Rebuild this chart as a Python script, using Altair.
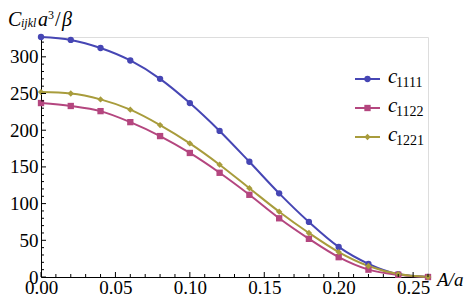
import altair as alt
import pandas as pd

A_over_a = [0.00, 0.02, 0.04, 0.06, 0.08, 0.10, 0.12, 0.14, 0.16, 0.18, 0.20, 0.22, 0.24, 0.26]
c1111 = [327, 323, 312, 295, 270, 237, 199, 157, 114, 75, 41, 18, 4, 0]
c1122 = [237, 233, 226, 211, 192, 169, 142, 112, 80, 52, 27, 10, 3, 0]
c1221 = [252, 250, 242, 228, 207, 182, 153, 121, 89, 60, 34, 15, 4, 0]

series_names = ["c1111", "c1122", "c1221"]
series_subs = ["1111", "1122", "1221"]
colors = ["#4646b4", "#b4467f", "#a89c3c"]
shapes = ["circle", "square", "diamond"]

x_major = [0.00, 0.05, 0.10, 0.15, 0.20, 0.25]
x_minor = [0.01, 0.02, 0.03, 0.04, 0.06, 0.07, 0.08, 0.09, 0.11, 0.12, 0.13, 0.14,
           0.16, 0.17, 0.18, 0.19, 0.21, 0.22, 0.23, 0.24, 0.26]
y_major = [0, 50, 100, 150, 200, 250, 300]
y_minor = [v for v in range(10, 330, 10) if v % 50 != 0]

FONT = "Liberation Serif"
W, H = 387, 240

rows = []
for name, vals in zip(series_names, [c1111, c1122, c1221]):
    for x, v in zip(A_over_a, vals):
        rows.append({"x": x, "C": v, "series": name})
df = pd.DataFrame(rows)

xscale = alt.Scale(domain=[0, 0.26], nice=False, zero=False)
yscale = alt.Scale(domain=[0, 327], nice=False)
color = alt.Color("series:N", scale=alt.Scale(domain=series_names, range=colors), legend=None)
shape = alt.Shape("series:N", scale=alt.Scale(domain=series_names, range=shapes), legend=None)

x_axis = alt.Axis(values=x_major, format=".2f", ticks=False, tickSize=0, grid=False,
                  labelFont=FONT, labelFontSize=19, labelColor="black", labelPadding=1,
                  domainColor="black", domainWidth=1, title=None, labelFlush=False)
y_axis = alt.Axis(values=y_major, format="d", ticks=False, tickSize=0, grid=False,
                  labelFont=FONT, labelFontSize=19, labelColor="black", labelPadding=3,
                  domainColor="black", domainWidth=1, title=None)

base = alt.Chart(df)
lines = base.mark_line(interpolate="monotone", strokeWidth=2).encode(
    x=alt.X("x:Q", scale=xscale, axis=x_axis),
    y=alt.Y("C:Q", scale=yscale, axis=y_axis),
    color=color,
)
points = base.mark_point(filled=True, size=40, opacity=1).encode(
    x=alt.X("x:Q", scale=xscale, axis=x_axis),
    y=alt.Y("C:Q", scale=yscale, axis=y_axis),
    color=color,
    shape=shape,
)

def xticks(vals, length):
    return alt.Chart(pd.DataFrame({"x": vals})).mark_rule(color="black", strokeWidth=1).encode(
        x=alt.X("x:Q", scale=xscale, axis=x_axis),
        y=alt.value(H), y2=alt.value(H - length))

def yticks(vals, length):
    return alt.Chart(pd.DataFrame({"C": vals})).mark_rule(color="black", strokeWidth=1).encode(
        y=alt.Y("C:Q", scale=yscale, axis=y_axis),
        x=alt.value(0), x2=alt.value(length))

def label(txt, x, y, size, italic=True):
    m = alt.Chart(pd.DataFrame({"t": [txt]})).mark_text(
        font=FONT, fontSize=size, fontStyle="italic" if italic else "normal",
        align="left", baseline="alphabetic", color="black")
    return m.encode(text="t:N", x=alt.value(x), y=alt.value(y))

title_parts = [
    label("C", -33, -11, 20),
    label("ijkl", -20, -10, 12),
    label("a", -3, -11, 20),
    label("3", 7, -18, 12, italic=False),
    label("/", 14, -11, 20, italic=False),
    label("β", 21, -11, 20),
    label("A/a", 396, 249, 19),
]

leg_df = pd.DataFrame({"idx": [0, 1, 2], "series": series_names, "sub": series_subs, "c": ["c"] * 3})
leg_y = alt.Y("idx:Q", scale=alt.Scale(domain=[0, 2], range=[42, 100], nice=False, zero=False), axis=None)
leg_base = alt.Chart(leg_df)
leg_line = leg_base.mark_rule(strokeWidth=2).encode(
    x=alt.value(314), x2=alt.value(339), y=leg_y, color=color)
leg_pt = leg_base.mark_point(filled=True, size=40, opacity=1).encode(
    x=alt.value(326.5), y=leg_y, color=color, shape=shape)
leg_c = leg_base.mark_text(font=FONT, fontSize=21, fontStyle="italic", align="left",
                           baseline="alphabetic", dy=4, color="black").encode(
    x=alt.value(347), y=leg_y, text="c:N")
leg_sub = leg_base.mark_text(font=FONT, fontSize=14, align="left",
                             baseline="alphabetic", dy=8, color="black").encode(
    x=alt.value(355), y=leg_y, text="sub:N")

main = alt.layer(lines, points, xticks(x_major, 5), xticks(x_minor, 3),
                 yticks(y_major, 5), yticks(y_minor, 3), *title_parts)
legend = alt.layer(leg_line, leg_pt, leg_c, leg_sub)

chart = alt.layer(main, legend).resolve_scale(y="independent").properties(
    width=W, height=H,
    padding={"left": 33, "top": 29, "right": 37, "bottom": 22},
    autosize=alt.AutoSizeParams(type="none"),
).configure_view(stroke=None).configure(background="white")

chart.save("out.html", embed_options={"renderer": "svg", "actions": False})
